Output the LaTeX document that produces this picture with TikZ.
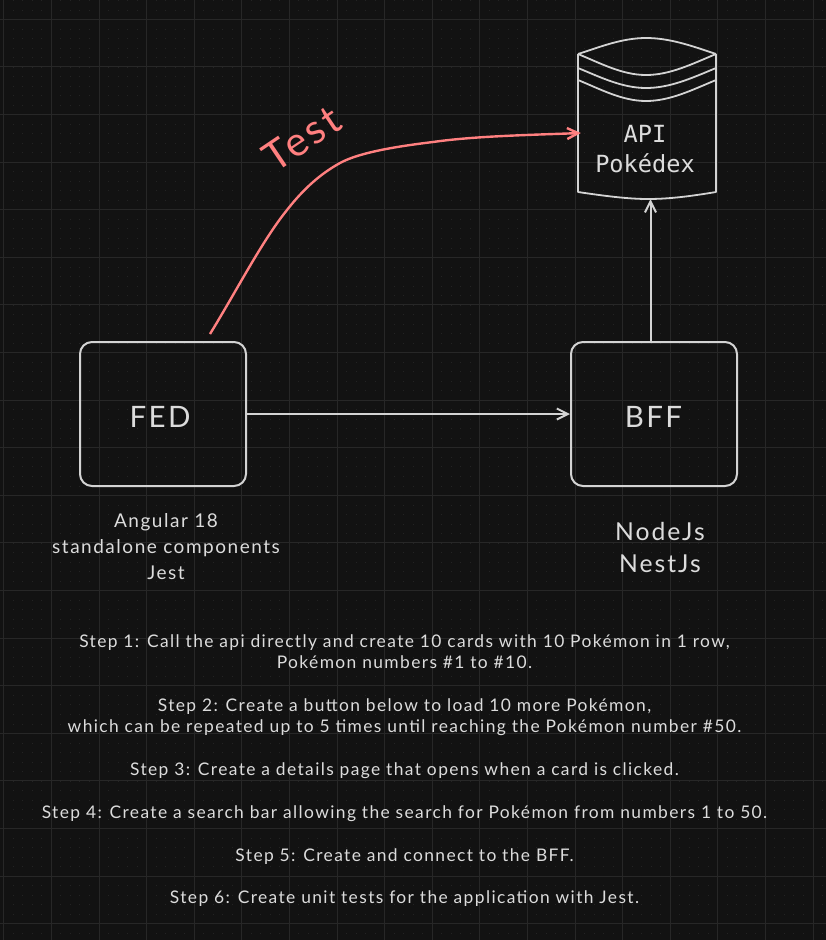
\documentclass[tikz,border=0pt]{standalone}
\usepackage{fontspec}
\setmainfont{Lato}
\newfontfamily\handfont[LetterSpace=8]{Lato}
\newfontfamily\apifont{DejaVu Sans Mono}
\usetikzlibrary{arrows.meta}
\definecolor{bgc}{HTML}{121212}
\definecolor{majorc}{HTML}{272727}
\definecolor{minorc}{HTML}{232323}
\definecolor{inkc}{HTML}{D3D3D3}
\definecolor{textc}{HTML}{DCDCDC}
\definecolor{redc}{HTML}{FF8080}
\tikzset{
  boxnode/.style={draw=inkc,line width=2pt,rounded corners=12pt,minimum width=166pt,minimum height=144pt,inner sep=0pt},
  boxlabel/.style={text=textc,inner sep=0pt,font=\handfont\fontsize{29.5}{30}\selectfont},
  capnode/.style={text=textc,inner sep=0pt,align=center},
  wire/.style={draw=inkc,line width=2pt,-{Straight Barb[length=11pt,width=11pt]}},
  redwire/.style={draw=redc,line width=2.4pt,-{Straight Barb[length=11pt,width=11pt]}},
  inkline/.style={draw=inkc,line width=1.8pt,line join=round}
}
\begin{document}
\begin{tikzpicture}[x=1pt,y=-1pt]
\useasboundingbox (0,0) rectangle (826,940);
\fill[bgc] (0,0) rectangle (826,940);
% dotted minor grid
\begin{scope}[draw=minorc,line width=1pt,dash pattern=on 1pt off 8.52pt]
\foreach \i in {0,...,87} \draw ({3.8+9.52*(\i-1)},0) -- ({3.8+9.52*(\i-1)},940);
\end{scope}
% major grid
\begin{scope}[draw=majorc,line width=1pt]
\foreach \i in {0,...,17} \draw ({3.8+47.6*\i},0) -- ({3.8+47.6*\i},940);
\foreach \i in {0,...,19} \draw (0,{19.2+47.6*\i}) -- (826,{19.2+47.6*\i});
\end{scope}
% boxes
\node[boxnode] (fed) at (163,414) {};
\node[boxnode] (bff) at (654,414) {};
\node[boxlabel] (fedt) at (160,417) {FED};
\node[boxlabel] (bfft) at (653.5,417) {BFF};
% API cylinder
\coordinate (apitl) at (578,54);
\coordinate (apitr) at (716,54);
\coordinate (apibl) at (578,192);
\coordinate (apibr) at (716,192);
\node[minimum width=138pt,minimum height=145pt,inner sep=0pt] (api) at (647,126.5) {};
\draw[inkline] (apitl) .. controls (600,47) and (622,38) .. (646,38) .. controls (670,38) and (692,46) .. (apitr);
\draw[inkline] (apitl) .. controls (600,63) and (622,75) .. (646,75) .. controls (670,75) and (692,64) .. (apitr);
\draw[inkline] (578,68) .. controls (600,77) and (622,88) .. (646,88) .. controls (670,88) and (692,78) .. (716,68);
\draw[inkline] (578,80) .. controls (600,89) and (622,101) .. (646,101) .. controls (670,101) and (692,90) .. (716,80);
\draw[inkline] (apitl) -- (apibl) .. controls (605,196) and (628,199) .. (648,199) .. controls (670,199) and (692,196) .. (apibr) -- (apitr);
\node[capnode,font=\apifont\fontsize{23.6}{30}\selectfont] (apit) at (645,149.5) {API\\Pokédex};
% connectors
\draw[wire] (fed.east) -- (bff.west);
\draw[wire] ([xshift=-3.5pt]bff.north) -- ([xshift=3.5pt]api.south);
\draw[redwire] ([xshift=47pt,yshift=7pt]fed.north) .. controls (237,290) and (262,241) .. (287,210) .. controls (305,187) and (322,173) .. (340,163) .. controls (360,152) and (400,146) .. (433,142) .. controls (475,136) and (530,135) .. ([xshift=3pt,yshift=-6.5pt]api.west);
\node[text=redc,inner sep=0pt,rotate=34,font=\handfont\fontsize{40.8}{42}\selectfont] (testt) at (302,138) {Test};
% captions
\node[capnode,font=\handfont\fontsize{19}{26}\selectfont] (fedc) at (166,546.5) {Angular 18\\standalone components\\Jest};
\node[capnode,font=\handfont\fontsize{24.7}{32}\selectfont] (bffc) at (660,547) {NodeJs\\NestJs};
\node[capnode,font=\handfont\fontsize{17.4}{21.4}\selectfont] (steps) at (404.5,770.5) {Step 1: Call the api directly and create 10 cards with 10 Pokémon in 1 row,\\Pokémon numbers \#1 to \#10.\\[21.4pt]Step 2: Create a button below to load 10 more Pokémon,\\which can be repeated up to 5 times until reaching the Pokémon number \#50.\\[21.4pt]Step 3: Create a details page that opens when a card is clicked.\\[21.4pt]Step 4: Create a search bar allowing the search for Pokémon from numbers 1 to 50.\\[21.4pt]Step 5: Create and connect to the BFF.\\[21.4pt]Step 6: Create unit tests for the application with Jest.};
\end{tikzpicture}
\end{document}
